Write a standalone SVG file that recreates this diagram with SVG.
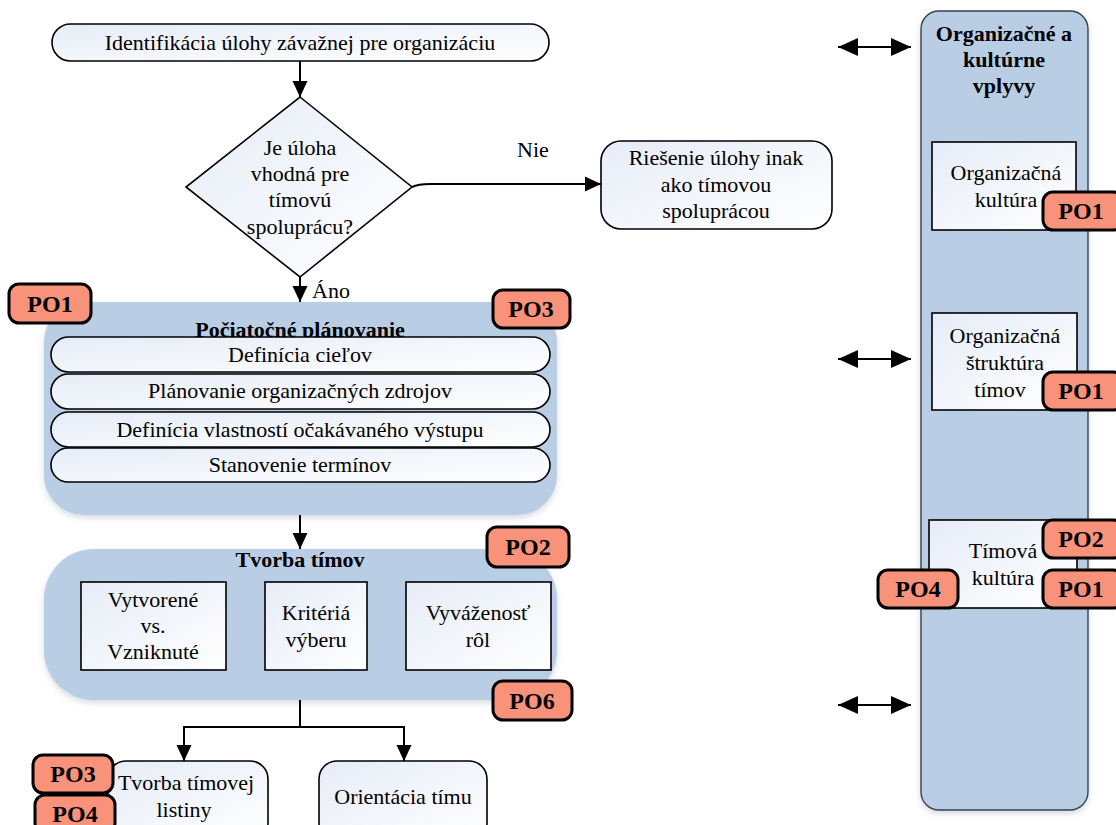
<svg xmlns="http://www.w3.org/2000/svg" width="1116" height="825" viewBox="0 0 1116 825">
  <defs>
    <linearGradient id="nodeFill" x1="0" y1="0" x2="1" y2="1">
      <stop offset="0" stop-color="#E6ECF7"/>
      <stop offset="1" stop-color="#FFFFFF"/>
    </linearGradient>
    <filter id="soft" x="-10%" y="-10%" width="120%" height="125%">
      <feDropShadow dx="0" dy="3" stdDeviation="3" flood-color="#8899AA" flood-opacity="0.35"/>
    </filter>
    <marker id="arrow" markerWidth="16" markerHeight="17" viewBox="0 0 17 16" refX="17" refY="8" orient="auto" markerUnits="userSpaceOnUse">
      <path d="M0,0 L17,8 L0,16 Z" fill="#000"/>
    </marker>
    <marker id="arrowStart" markerWidth="20" markerHeight="18" viewBox="0 0 20 18" refX="0" refY="9" orient="auto" markerUnits="userSpaceOnUse">
      <path d="M20,0 L0,9 L20,18 Z" fill="#000"/>
    </marker>
    <marker id="arrowEnd" markerWidth="20" markerHeight="18" viewBox="0 0 20 18" refX="20" refY="9" orient="auto" markerUnits="userSpaceOnUse">
      <path d="M0,0 L20,9 L0,18 Z" fill="#000"/>
    </marker>
  </defs>
  <style>
    .t { font-family: 'Liberation Serif', 'Times New Roman', serif; font-size: 22px; fill: #000; text-anchor: middle; }
    .bold { font-weight: bold; }
    .node { fill: url(#nodeFill); stroke: #000; stroke-width: 1.6; }
    .box { fill: url(#nodeFill); stroke: #000; stroke-width: 1.6; }
    .panel { fill: #B9CDE5; filter: url(#soft); }
    .side { fill: #B9CDE5; stroke: #3A3F47; stroke-width: 1.4; filter: url(#soft); }
    .badge { fill: #F9927B; stroke: #000; stroke-width: 3; }
    .badge-t { font-weight: bold; font-size: 24px; }
    .conn { fill: none; stroke: #000; stroke-width: 2; }
  </style>

  <!-- side panel: organisational and cultural influences -->
  <g id="influences">
    <rect class="side" x="921" y="11" width="167" height="799" rx="18"/>
    <text class="t bold" x="1004" y="41">Organizačné a</text>
    <text class="t bold" x="1004" y="67">kultúrne</text>
    <text class="t bold" x="1004" y="93">vplyvy</text>
  </g>

  <g id="org-culture">
    <rect class="box" x="932" y="142" width="144" height="88"/>
    <text class="t" x="1006" y="180">Organizačná</text>
    <text class="t" x="1006" y="207">kultúra</text>
    <rect class="badge" x="1043" y="192" width="80" height="38" rx="10"/>
    <text class="t badge-t" x="1081" y="219">PO1</text>
  </g>

  <g id="org-structure">
    <rect class="box" x="932" y="313" width="145" height="97"/>
    <text class="t" x="1005" y="343">Organizačná</text>
    <text class="t" x="1005" y="370">štruktúra</text>
    <text class="t" x="1000" y="397">tímov</text>
    <rect class="badge" x="1043" y="372" width="80" height="38" rx="10"/>
    <text class="t badge-t" x="1081" y="399">PO1</text>
  </g>

  <g id="team-culture">
    <rect class="box" x="929" y="520" width="148" height="88"/>
    <text class="t" x="1003" y="558">Tímová</text>
    <text class="t" x="1003" y="585">kultúra</text>
    <rect class="badge" x="1043" y="520" width="80" height="38" rx="10"/>
    <text class="t badge-t" x="1081" y="547">PO2</text>
    <rect class="badge" x="1043" y="570" width="80" height="38" rx="10"/>
    <text class="t badge-t" x="1081" y="597">PO1</text>
    <rect class="badge" x="878" y="570" width="80" height="38" rx="10"/>
    <text class="t badge-t" x="918" y="597">PO4</text>
  </g>

  <!-- start node -->
  <g id="identify">
    <rect class="node" x="52" y="24" width="497" height="37" rx="18.5"/>
    <text class="t" x="300" y="50">Identifikácia úlohy závažnej pre organizáciu</text>
  </g>

  <!-- decision -->
  <g id="decision">
    <polygon class="node" points="300,97 412,187 300,277 186,187"/>
    <text class="t" x="300" y="155">Je úloha</text>
    <text class="t" x="300" y="181">vhodná pre</text>
    <text class="t" x="300" y="207">tímovú</text>
    <text class="t" x="300" y="234">spoluprácu?</text>
  </g>

  <g id="otherwise">
    <rect class="node" x="601" y="141" width="231" height="88" rx="20"/>
    <text class="t" x="716" y="165">Riešenie úlohy inak</text>
    <text class="t" x="716" y="192">ako tímovou</text>
    <text class="t" x="716" y="218">spoluprácou</text>
  </g>

  <!-- initial planning -->
  <g id="planning">
    <rect class="panel" x="44" y="302" width="513" height="213" rx="40"/>
    <text class="t bold" x="300" y="337">Počiatočné plánovanie</text>
    <rect class="node" x="51" y="337" width="499" height="35" rx="17.5"/>
    <text class="t" x="300" y="362">Definícia cieľov</text>
    <rect class="node" x="51" y="374" width="499" height="35" rx="17.5"/>
    <text class="t" x="300" y="398">Plánovanie organizačných zdrojov</text>
    <rect class="node" x="51" y="412" width="499" height="35" rx="17.5"/>
    <text class="t" x="300" y="437">Definícia vlastností očakávaného výstupu</text>
    <rect class="node" x="51" y="448" width="499" height="34" rx="17"/>
    <text class="t" x="300" y="472">Stanovenie termínov</text>
    <rect class="badge" x="9" y="284" width="82" height="39" rx="10"/>
    <text class="t badge-t" x="50" y="312">PO1</text>
    <rect class="badge" x="493" y="290" width="77" height="38" rx="10"/>
    <text class="t badge-t" x="531" y="317">PO3</text>
  </g>

  <!-- team building -->
  <g id="team-building">
    <rect class="panel" x="44" y="549" width="513" height="151" rx="50"/>
    <text class="t bold" x="300" y="567">Tvorba tímov</text>
    <rect class="box" x="81" y="582" width="145" height="88"/>
    <text class="t" x="153" y="607">Vytvorené</text>
    <text class="t" x="153" y="633">vs.</text>
    <text class="t" x="153" y="659">Vzniknuté</text>
    <rect class="box" x="265" y="582" width="102" height="88"/>
    <text class="t" x="316" y="620">Kritériá</text>
    <text class="t" x="316" y="647">výberu</text>
    <rect class="box" x="406" y="582" width="145" height="88"/>
    <text class="t" x="478" y="620">Vyváženosť</text>
    <text class="t" x="478" y="647">rôl</text>
    <rect class="badge" x="487" y="527" width="82" height="40" rx="10"/>
    <text class="t badge-t" x="528" y="555">PO2</text>
    <rect class="badge" x="493" y="681" width="79" height="39" rx="10"/>
    <text class="t badge-t" x="532" y="709">PO6</text>
  </g>

  <g id="charter">
    <rect class="node" x="108" y="761" width="160" height="80" rx="18"/>
    <text class="t" x="186" y="790">Tvorba tímovej</text>
    <text class="t" x="184" y="817">listiny</text>
    <rect class="badge" x="33" y="755" width="80" height="38" rx="10"/>
    <text class="t badge-t" x="73" y="782">PO3</text>
    <rect class="badge" x="35" y="795" width="80" height="38" rx="10"/>
    <text class="t badge-t" x="75" y="822">PO4</text>
  </g>

  <g id="orientation">
    <rect class="node" x="319" y="761" width="168" height="80" rx="18"/>
    <text class="t" x="403" y="804">Orientácia tímu</text>
  </g>

  <!-- connectors -->
  <g id="connectors">
    <line class="conn" x1="300" y1="61" x2="300" y2="97" marker-end="url(#arrow)"/>
    <path class="conn" d="M412,187 Q418,184 430,184 L601,184" marker-end="url(#arrow)"/>
    <text class="t" x="533" y="157">Nie</text>
    <line class="conn" x1="300" y1="277" x2="300" y2="302" marker-end="url(#arrow)"/>
    <text class="t" x="331" y="298">Áno</text>
    <line class="conn" x1="300" y1="515" x2="300" y2="549" marker-end="url(#arrow)"/>
    <polyline class="conn" points="300,700 300,727 184,727 184,761" marker-end="url(#arrow)"/>
    <polyline class="conn" points="300,727 404,727 404,761" marker-end="url(#arrow)"/>
    <line class="conn" x1="838" y1="47" x2="911" y2="47" marker-start="url(#arrowStart)" marker-end="url(#arrowEnd)"/>
    <line class="conn" x1="838" y1="359" x2="911" y2="359" marker-start="url(#arrowStart)" marker-end="url(#arrowEnd)"/>
    <line class="conn" x1="838" y1="705" x2="911" y2="705" marker-start="url(#arrowStart)" marker-end="url(#arrowEnd)"/>
  </g>
</svg>
